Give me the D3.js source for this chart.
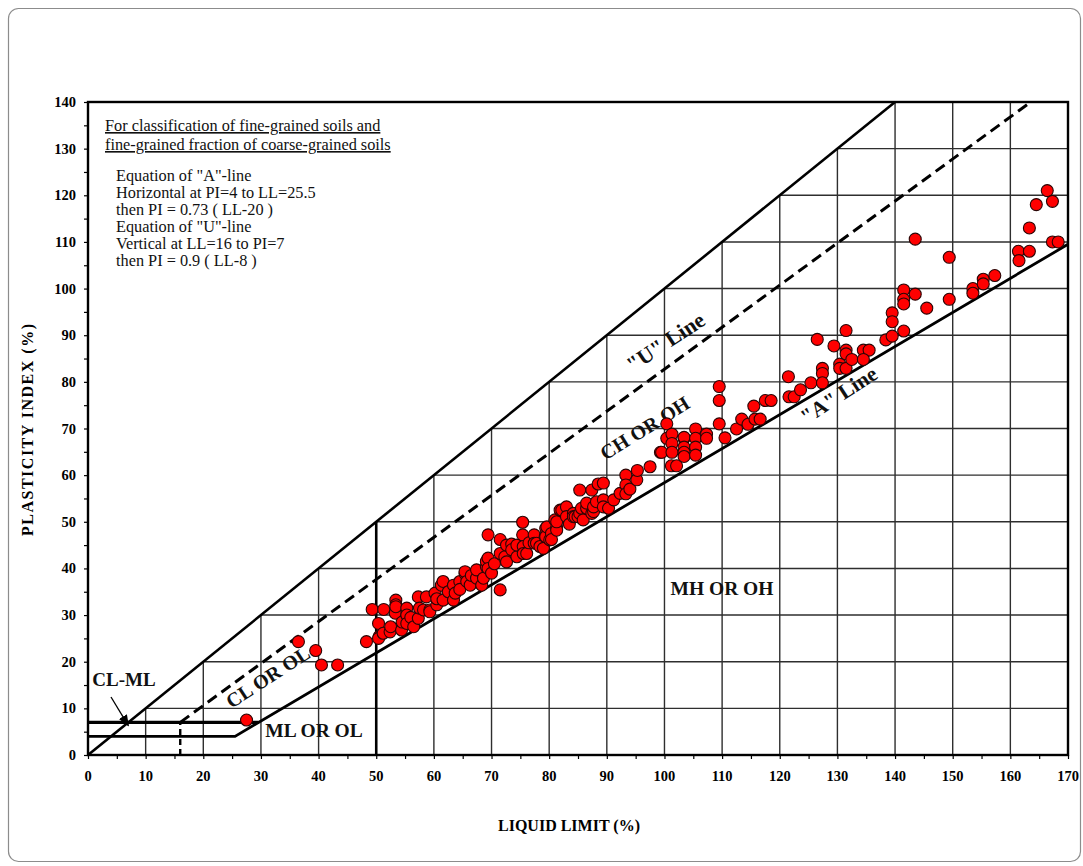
<!DOCTYPE html>
<html>
<head>
<meta charset="utf-8">
<script src="https://cdn.jsdelivr.net/npm/d3@7"></script>
<style>
  html, body { margin: 0; padding: 0; background: #fff; }
  svg { display: block; }
  text { font-family: "Liberation Serif", "Times New Roman", serif; }
</style>
</head>
<body>
<svg id="chart" width="1083" height="866"></svg>
<script>
// Liquid limit (%) of each tested sample
const liquidLimit = [
  27.5, 36.5, 39.5, 40.5, 43.3,
  48.3, 49.3, 50.4, 50.5, 50.4, 51.2, 51.3, 52.4, 52.5, 53.3, 53.4, 53.4, 53.4, 54.4, 54.5,
  55.3, 55.3, 55.3, 56.0, 56.5, 57.3, 57.3, 57.5, 58.2, 58.7, 59.3, 59.3, 60.2, 60.5, 60.5,
  61.3, 61.6, 61.6, 62.5, 63.4, 63.4, 63.7, 64.5, 64.5, 65.4, 65.4, 65.7, 66.3, 66.5, 67.4,
  67.4, 68.3, 68.6, 69.1, 69.1, 69.4, 69.4, 69.4, 70.0, 70.5, 71.5, 71.5, 71.5, 72.3, 72.6,
  72.6, 73.5, 73.5, 74.4, 74.4, 75.4, 75.4, 75.5, 75.5, 76.1, 76.5, 77.4, 77.4, 77.8, 78.4,
  79.0, 79.3, 79.4, 79.4, 79.6, 80.1, 80.4, 80.4, 81.0, 81.3, 81.3, 81.3, 81.9, 82.2, 83.0,
  83.0, 83.5, 84.2, 84.2, 84.5, 85.0, 85.3, 85.3, 85.6, 85.9, 86.5, 86.5, 87.4, 87.4, 87.7,
  87.7, 88.2, 88.5, 89.4, 89.4, 89.4, 90.3, 91.2, 92.3, 93.3, 93.3, 93.3, 94.0, 95.2, 95.3,
  97.5, 99.3, 99.5, 100.4, 100.4, 101.3, 101.3, 101.3, 101.2, 102.1, 103.4, 103.4, 103.4, 103.4, 103.4,
  105.4, 105.4, 105.4, 105.4, 107.3, 107.3, 109.5, 109.5, 109.5, 110.5, 112.5, 113.4, 114.5, 115.5, 115.7,
  116.6, 117.5, 118.5, 121.5, 121.6, 122.5, 123.6, 125.4, 126.5, 127.4, 127.4, 127.4, 129.4, 130.4, 130.4,
  131.5, 131.5, 131.5, 131.5, 132.5, 134.5, 135.5, 134.5, 138.4, 139.5, 139.5, 139.5, 141.5, 141.5, 141.5,
  141.5, 143.5, 143.5, 145.5, 149.4, 149.4, 153.5, 153.5, 155.3, 155.3, 157.3, 161.4, 161.5, 163.3, 163.3,
  164.5, 166.4, 167.3, 167.3, 168.3
];

// Plasticity index (%) of the same samples, in the same order
const plasticityIndex = [
  7.5, 24.3, 22.4, 19.3, 19.3,
  24.3, 31.2, 28.2, 25.4, 25.0, 26.1, 31.2, 26.4, 27.5, 30.4, 33.2, 32.2, 31.8, 26.8, 28.5,
  31.5, 30.0, 28.2, 29.5, 27.5, 29.3, 33.9, 31.5, 31.1, 33.9, 31.1, 30.7, 34.7, 32.2, 33.5,
  36.4, 37.2, 33.2, 35.0, 36.4, 33.2, 34.7, 37.2, 35.5, 38.9, 39.3, 37.2, 36.4, 38.5, 37.9,
  39.7, 36.4, 37.9, 40.4, 41.5, 47.2, 42.2, 40.0, 39.0, 41.0, 46.2, 43.2, 35.4, 42.5, 45.0,
  41.4, 45.2, 44.0, 42.5, 45.0, 49.9, 47.2, 44.7, 43.2, 43.2, 45.5, 47.2, 45.4, 45.4, 44.7,
  44.3, 46.8, 48.6, 46.8, 48.9, 46.1, 47.5, 46.2, 50.4, 48.9, 48.2, 50.0, 52.5, 52.5, 53.2,
  51.1, 49.5, 51.8, 51.1, 51.1, 51.1, 51.8, 56.8, 52.9, 50.4, 52.9, 54.0, 56.8, 51.8, 52.2,
  53.2, 54.3, 58.1, 58.3, 54.7, 53.2, 52.9, 54.7, 56.1, 60.0, 57.9, 56.0, 57.0, 59.0, 61.0,
  61.8, 64.9, 64.9, 71.0, 67.9, 68.8, 66.8, 64.9, 62.0, 62.0, 67.9, 68.1, 66.0, 64.9, 64.0,
  69.9, 67.9, 66.0, 64.3, 68.8, 67.9, 79.0, 76.0, 71.0, 68.0, 69.9, 72.0, 70.9, 74.8, 72.0,
  72.0, 76.0, 76.0, 81.1, 76.8, 76.8, 78.3, 79.8, 89.1, 82.9, 81.8, 79.8, 87.7, 83.8, 82.9,
  91.0, 86.8, 86.0, 82.9, 84.8, 86.8, 86.8, 84.8, 89.0, 94.8, 92.9, 89.8, 99.7, 97.7, 96.7,
  90.9, 110.6, 98.8, 95.8, 106.7, 97.7, 100.0, 99.0, 102.0, 101.0, 102.8, 108.0, 106.0, 108.0, 113.0,
  118.0, 121.0, 118.7, 110.0, 110.0
];

// Axis tick values
const llTicks = [0, 10, 20, 30, 40, 50, 60, 70, 80, 90, 100, 110, 120, 130, 140, 150, 160, 170];
const piTicks = [0, 10, 20, 30, 40, 50, 60, 70, 80, 90, 100, 110, 120, 130, 140];

// Classification boundaries, as [LL, PI] vertices
const aLine = [[0, 4], [25.5, 4], [170, 109.5]];
const uLineVertical = [[16, 0], [16, 7]];
const uLine = [[16, 7], [8 + 140 / 0.9, 140]];
const limitLine = [[0, 0], [140, 140]];
const clmlTop = [[0, 7], [20 + 7 / 0.73, 7]];
const ll50Divider = [[50, 0], [50, 50]];

const noteLines = [
  "Equation of \"A\"-line",
  "Horizontal at PI=4 to LL=25.5",
  "then PI = 0.73 ( LL-20 )",
  "Equation of \"U\"-line",
  "Vertical at LL=16 to PI=7",
  "then PI = 0.9 ( LL-8 )"
];

const svg = d3.select("#chart");

// Rounded outer frame
svg.append("rect")
  .attr("x", 8.5).attr("y", 8.5)
  .attr("width", 1072).attr("height", 853)
  .attr("rx", 10)
  .attr("fill", "#fff")
  .attr("stroke", "#8c8c8c")
  .attr("stroke-width", 1.2);

const x = d3.scaleLinear().domain([0, 170]).range([88, 1068]);
const y = d3.scaleLinear().domain([0, 140]).range([755, 102]);

const line = d3.line().x(d => x(d[0])).y(d => y(d[1]));

// Grid, kept to the region below the PI = LL limit
const grid = svg.append("g").attr("stroke", "#2e2e2e").attr("stroke-width", 1.4);
llTicks.filter(v => v > 0 && v < 170).forEach(v => {
  grid.append("line")
    .attr("x1", x(v)).attr("x2", x(v))
    .attr("y1", y(0)).attr("y2", y(Math.min(v, 140)));
});
piTicks.filter(v => v > 0 && v < 140).forEach(v => {
  grid.append("line")
    .attr("x1", x(v)).attr("x2", x(170))
    .attr("y1", y(v)).attr("y2", y(v));
});

// Axes with outward minor ticks every 5 %
const xAxis = d3.axisBottom(x).tickValues(d3.range(0, 171, 5)).tickSize(4).tickFormat("");
const yAxis = d3.axisLeft(y).tickValues(d3.range(0, 141, 5)).tickSize(4).tickFormat("");
const gx = svg.append("g").attr("transform", `translate(0,${y(0)})`).call(xAxis);
const gy = svg.append("g").attr("transform", `translate(${x(0)},0)`).call(yAxis);
[gx, gy].forEach(g => {
  g.select(".domain").remove();
  g.selectAll(".tick line").attr("stroke", "#000").attr("stroke-width", 1.2);
});

svg.append("g").selectAll("text").data(llTicks).join("text")
  .attr("x", d => x(d)).attr("y", y(0) + 26)
  .attr("text-anchor", "middle")
  .attr("font-size", 14.5).attr("font-weight", "bold")
  .text(d => d);

svg.append("g").selectAll("text").data(piTicks).join("text")
  .attr("x", x(0) - 12).attr("y", d => y(d) + 5)
  .attr("text-anchor", "end")
  .attr("font-size", 14.5).attr("font-weight", "bold")
  .text(d => d);

// Plot border
svg.append("rect")
  .attr("x", x(0)).attr("y", y(140))
  .attr("width", x(170) - x(0)).attr("height", y(0) - y(140))
  .attr("fill", "none").attr("stroke", "#000").attr("stroke-width", 2.4);

// Boundary lines
const bounds = svg.append("g").attr("fill", "none").attr("stroke", "#000");
bounds.append("path").attr("d", line(limitLine)).attr("stroke-width", 2.6);
bounds.append("path").attr("d", line(aLine)).attr("stroke-width", 2.8);
bounds.append("path").attr("d", line(clmlTop)).attr("stroke-width", 3.2);
bounds.append("path").attr("d", line(ll50Divider)).attr("stroke-width", 2.6);
bounds.append("path").attr("d", line(uLine)).attr("stroke-width", 3).attr("stroke-dasharray", "11,6");
bounds.append("path").attr("d", line(uLineVertical)).attr("stroke-width", 2.4).attr("stroke-dasharray", "6,4");

// Zone labels
const zoneLabel = (txt, cx, cy, angle, size) => svg.append("text")
  .attr("transform", `translate(${cx},${cy}) rotate(${angle})`)
  .attr("text-anchor", "middle").attr("dominant-baseline", "middle")
  .attr("font-size", size).attr("font-weight", "bold")
  .attr("fill", "#111")
  .text(txt);

zoneLabel("\"U\" Line", 667, 344, -33.5, 22);
zoneLabel("CH OR OH", 646, 430, -32, 20);
zoneLabel("\"A\" Line", 840, 397, -33, 21.5);
zoneLabel("CL OR OL", 269, 679, -33, 20);
zoneLabel("MH OR OH", 722, 591, 0, 19.5);
zoneLabel("ML OR OL", 314, 733, 0, 19.5);
zoneLabel("CL-ML", 124, 682, 0, 19);

// Arrow from the CL-ML label to its band
svg.append("defs").append("marker")
  .attr("id", "arrowhead")
  .attr("viewBox", "0 0 10 10").attr("refX", 9).attr("refY", 5)
  .attr("markerWidth", 9).attr("markerHeight", 9)
  .attr("orient", "auto")
  .append("path").attr("d", "M0,1 L10,5 L0,9 Z").attr("fill", "#000");
svg.append("line")
  .attr("x1", 111).attr("y1", 697)
  .attr("x2", x(7)).attr("y2", y(6.3))
  .attr("stroke", "#000").attr("stroke-width", 1.3)
  .attr("marker-end", "url(#arrowhead)");

// Samples
svg.append("g").selectAll("circle")
  .data(liquidLimit.map((ll, i) => [ll, plasticityIndex[i]]))
  .join("circle")
  .attr("cx", d => x(d[0])).attr("cy", d => y(d[1]))
  .attr("r", 6)
  .attr("fill", "#ff0000")
  .attr("stroke", "#2a0505").attr("stroke-width", 1.1);

// Note block
const note = svg.append("g").attr("font-size", 16.3).attr("fill", "#111");
["For classification of fine-grained soils and",
 "fine-grained fraction of coarse-grained soils"].forEach((t, i) => {
  note.append("text").attr("x", 105).attr("y", 131 + i * 19)
    .attr("text-decoration", "underline").text(t);
});
noteLines.forEach((t, i) => {
  note.append("text").attr("x", 116).attr("y", 181 + i * 17).text(t);
});

// Axis titles
svg.append("text")
  .attr("x", 569).attr("y", 831)
  .attr("text-anchor", "middle")
  .attr("font-size", 16).attr("font-weight", "bold")
  .text("LIQUID LIMIT (%)");
svg.append("text")
  .attr("transform", `translate(33,430) rotate(-90)`)
  .attr("text-anchor", "middle")
  .attr("font-size", 16).attr("font-weight", "bold")
  .attr("textLength", 212).attr("lengthAdjust", "spacing")
  .text("PLASTICITY INDEX (%)");
</script>
</body>
</html>
